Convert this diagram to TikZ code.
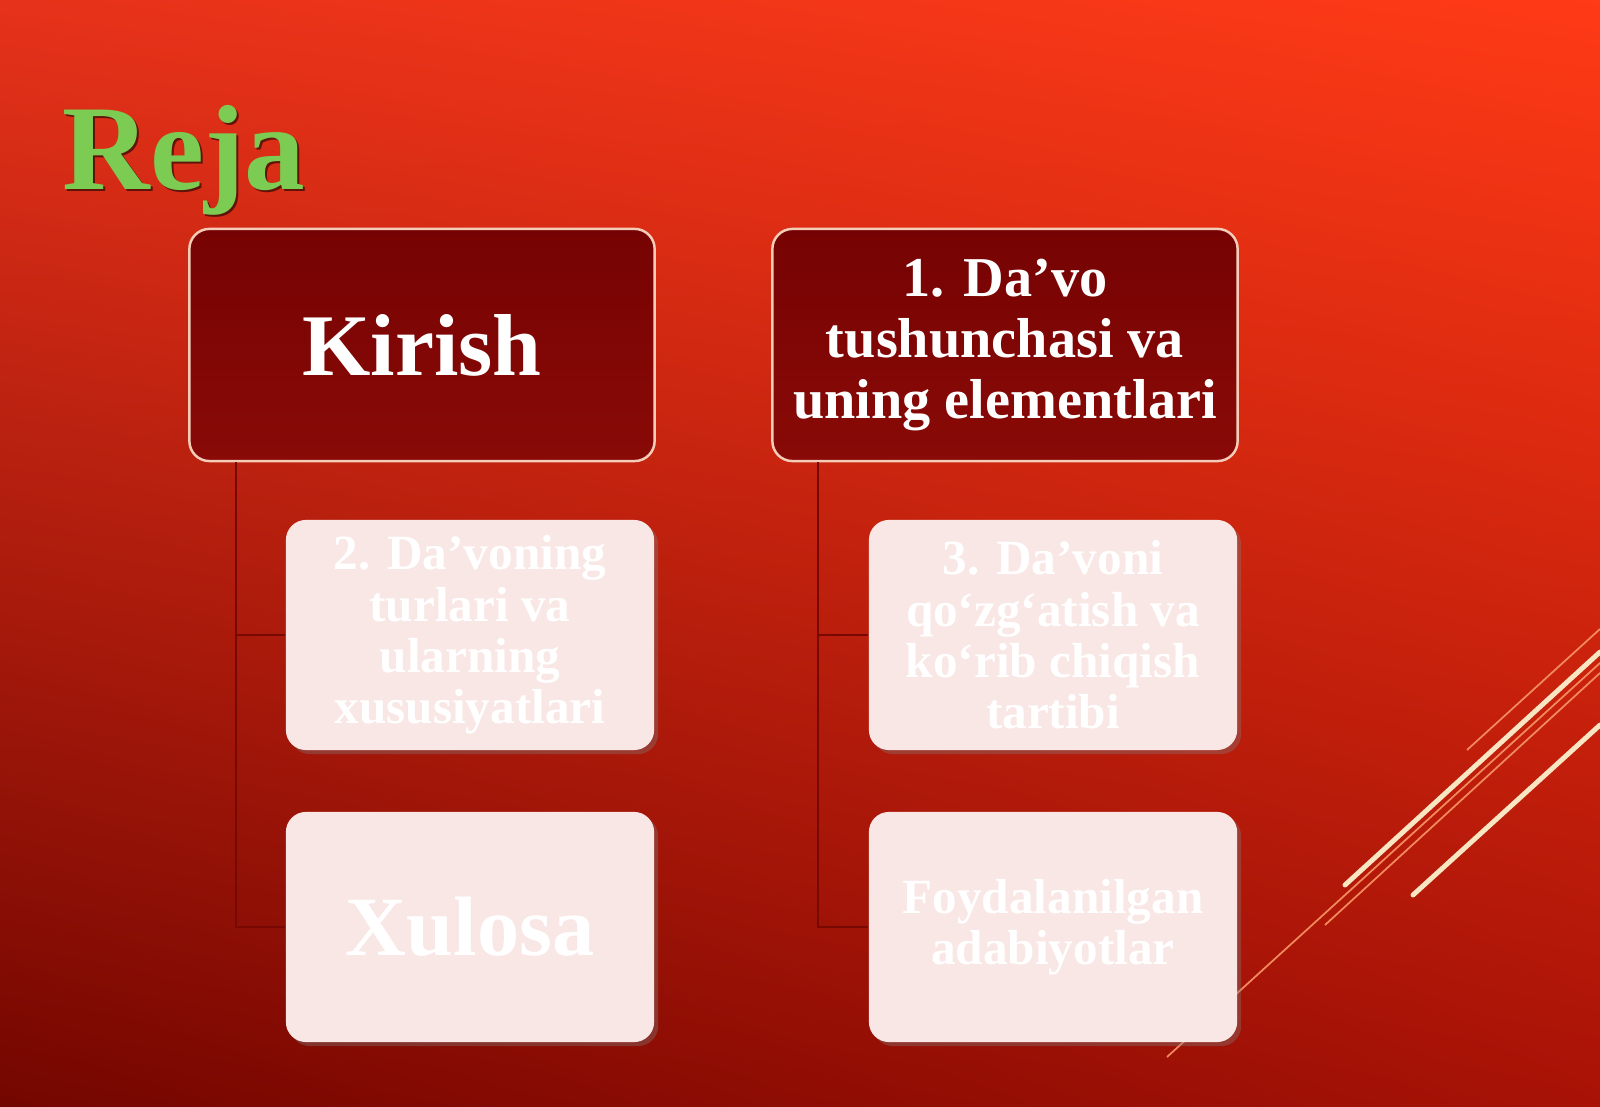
\documentclass[tikz,border=0pt]{standalone}
\usepackage{fontspec}
\setmainfont{Liberation Serif}
\usetikzlibrary{shadows, shadings}

\definecolor{bgul}{HTML}{E6321A}
\definecolor{bgur}{HTML}{FF3A16}
\definecolor{bgll}{HTML}{730600}
\definecolor{bglr}{HTML}{A81206}
\definecolor{headtop}{HTML}{760303}
\definecolor{headbot}{HTML}{890A07}
\definecolor{headline}{HTML}{F4CDB8}
\definecolor{itemfill}{HTML}{F8E7E5}
\definecolor{branchred}{HTML}{780802}
\definecolor{rejagreen}{HTML}{7CCB52}
\definecolor{streakcream}{HTML}{F8E6C2}
\definecolor{streakorange}{HTML}{F28A5E}

\begin{document}
\begin{tikzpicture}[x=0.01cm, y=-0.01cm,
	head/.style={draw=headline, line width=0.7pt, rounded corners=0.2cm,
		top color=headtop, bottom color=headbot, text=white, font=\bfseries,
		align=center, minimum width=4.65cm, minimum height=2.32cm, inner sep=2pt},
	item/.style={fill=itemfill, rounded corners=0.2cm, text=white,
		font=\bfseries\fontsize{14}{14.6}\selectfont, align=center,
		minimum width=3.68cm, minimum height=2.3cm, inner sep=2pt,
		drop shadow={opacity=0.35, shadow xshift=0.04cm, shadow yshift=-0.04cm}},
	branch/.style={draw=branchred, line width=0.6pt},
	streak/.style={draw=streakcream, line width=1.4pt, line cap=round},
	thinstreak/.style={draw=streakorange, line width=0.5pt}
]
	\useasboundingbox (0,0) rectangle (1600,1107);
	\shade[upper left=bgul, upper right=bgur, lower left=bgll, lower right=bglr]
		(0,0) rectangle (1600,1107);

	% streaks on the right
	\draw[thinstreak] (1467,750) -- (1600,629);
	\draw[thinstreak] (1325,925) -- (1600,673);
	\draw[thinstreak] (1167,1057) -- (1600,663);
	\draw[streak] (1345,885) -- (1600,652);
	\draw[streak] (1413,895) -- (1600,725);

	% title
	\node[anchor=base west, inner sep=0, text=black, opacity=0.55,
		font=\bfseries\fontsize{34.5}{36}\selectfont] (rejashadow) at (64,192) {Reja};
	\node[anchor=base west, inner sep=0, text=rejagreen,
		font=\bfseries\fontsize{34.5}{36}\selectfont] (reja) at (62,190) {Reja};

	% boxes
	\node[head, font=\bfseries\fontsize{25}{27}\selectfont]	(kirish) 	at (422,345)	{Kirish};
	\node[head, font=\bfseries\fontsize{16}{17.4}\selectfont]	(davo)		at (1005,345)	{1. Da’vo\\tushunchasi va\\uning elementlari};
	\node[item]		(turlar)	at (470,635)	{2. Da’voning\\turlari va\\ularning\\xususiyatlari};
	\node[item, font=\bfseries\fontsize{24}{26}\selectfont]	(xulosa)	at (470,927)	{Xulosa};
	\node[item]		(tartib)	at (1053,635)	{3. Da’voni\\qo‘zg‘atish va\\ko‘rib chiqish\\tartibi};
	\node[item]		(adabiyot)	at (1053,927)	{Foydalanilgan\\adabiyotlar};

	% branches
	\draw[branch] ([xshift=0.48cm]kirish.south west) |- (turlar.west);
	\draw[branch] ([xshift=0.48cm]kirish.south west) |- (xulosa.west);
	\draw[branch] ([xshift=0.47cm]davo.south west) |- (tartib.west);
	\draw[branch] ([xshift=0.47cm]davo.south west) |- (adabiyot.west);
\end{tikzpicture}
\end{document}
